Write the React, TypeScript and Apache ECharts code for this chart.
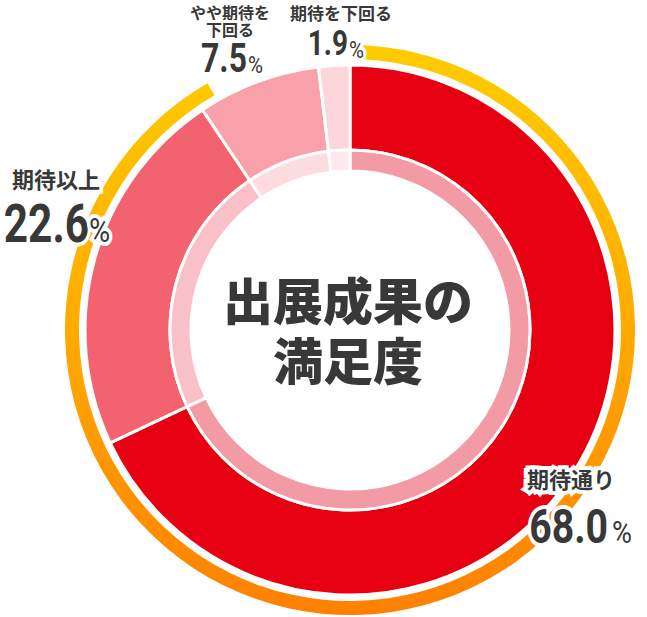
import React, { useEffect, useRef } from 'react';
import * as echarts from 'echarts';

// satisfaction with exhibition results (%)
const categories = ['期待通り', '期待以上', 'やや期待を下回る', '期待を下回る'];
const values = [68.0, 22.6, 7.5, 1.9];
const mainColors = ['#E60012', '#F2636F', '#F9A1AA', '#FDD6DB'];
const innerColors = ['#F39BA4', '#F9C1C7', '#FDDCE0', '#FEE9EC'];
const titleLines = ['出展成果の', '満足度'];

const CX = 350;
const CY = 330;
const NUM_FONT = 'Roboto, sans-serif';
const JP_FONT = '"Noto Sans CJK JP", sans-serif';
const INK = '#383838';

function txt(text: string, x: number, y: number, size: number, opts: any = {}) {
  return {
    type: 'text',
    z: 100,
    x,
    y,
    scaleX: opts.scaleX ?? 1,
    style: {
      text,
      x: 0,
      y: 0,
      fill: INK,
      stroke: '#fff',
      lineWidth: opts.stroke ?? 8,
      strokeFirst: true,
      fontSize: size,
      fontWeight: opts.weight ?? 'bold',
      fontFamily: opts.family ?? JP_FONT,
      align: opts.align ?? 'left',
      verticalAlign: 'middle'
    }
  };
}

export default function App() {
  const chartRef = useRef<HTMLDivElement>(null);

  useEffect(() => {
    if (!chartRef.current) return;
    document.body.style.margin = '0';
    const chart = echarts.init(chartRef.current, null, { renderer: 'svg' });

    const ringGradient = new echarts.graphic.LinearGradient(0, 0, 0, 1, [
      { offset: 0, color: '#FFCC00' },
      { offset: 0.5, color: '#FFAA00' },
      { offset: 1, color: '#FF8000' }
    ]);

    const fmt = (v: number) => v.toFixed(1);
    const num = { family: NUM_FONT, align: 'right', scaleX: 0.8 };
    const pct = { family: NUM_FONT, weight: 'normal', scaleX: 0.85 };

    const option: echarts.EChartsOption = {
      animation: false,
      backgroundColor: '#fff',
      series: [
        {
          type: 'pie',
          center: [CX, CY],
          radius: [271, 285],
          startAngle: 90,
          clockwise: true,
          silent: true,
          label: { show: false },
          data: [
            { value: 330, itemStyle: { color: ringGradient } },
            { value: 30, itemStyle: { color: 'rgba(0,0,0,0)' } }
          ]
        },
        {
          type: 'pie',
          center: [CX, CY],
          radius: [180, 265],
          startAngle: 90,
          clockwise: true,
          label: { show: false },
          itemStyle: { borderColor: '#fff', borderWidth: 3 },
          data: categories.map((name, i) => ({
            name,
            value: values[i],
            itemStyle: { color: mainColors[i] }
          }))
        },
        {
          type: 'pie',
          center: [CX, CY],
          radius: [159, 180],
          startAngle: 90,
          clockwise: true,
          label: { show: false },
          itemStyle: { borderColor: '#fff', borderWidth: 3 },
          data: categories.map((name, i) => ({
            name: name + ' ',
            value: values[i],
            itemStyle: { color: innerColors[i] }
          }))
        }
      ],
      graphic: [
        txt(titleLines[0], CX - 2, 298, 50, { stroke: 0, align: 'center', weight: 900 }),
        txt(titleLines[1], CX - 2, 358, 50, { stroke: 0, align: 'center', weight: 900 }),
        // 期待通り
        txt(categories[0], 527, 478, 22),
        txt(fmt(values[0]), 608, 526, 49, num),
        txt('%', 612, 532, 32, pct),
        // 期待以上
        txt(categories[1], 12, 178, 22),
        txt(fmt(values[1]), 89, 224, 53, num),
        txt('%', 89, 231, 34, pct),
        // やや期待を下回る
        txt('やや期待を', 230, 12, 16, { align: 'center', stroke: 6 }),
        txt('下回る', 230, 29, 16, { align: 'center', stroke: 6 }),
        txt(fmt(values[2]), 247, 58, 40, num),
        txt('%', 248, 64, 24, pct),
        // 期待を下回る
        txt(categories[3], 341, 12, 17, { align: 'center', stroke: 6 }),
        txt(fmt(values[3]), 348, 43, 35, num),
        txt('%', 349, 49, 24, pct)
      ] as any
    };

    chart.setOption(option);
    return () => chart.dispose();
  }, []);

  return <div ref={chartRef} style={{ width: 647, height: 617 }} />;
}
